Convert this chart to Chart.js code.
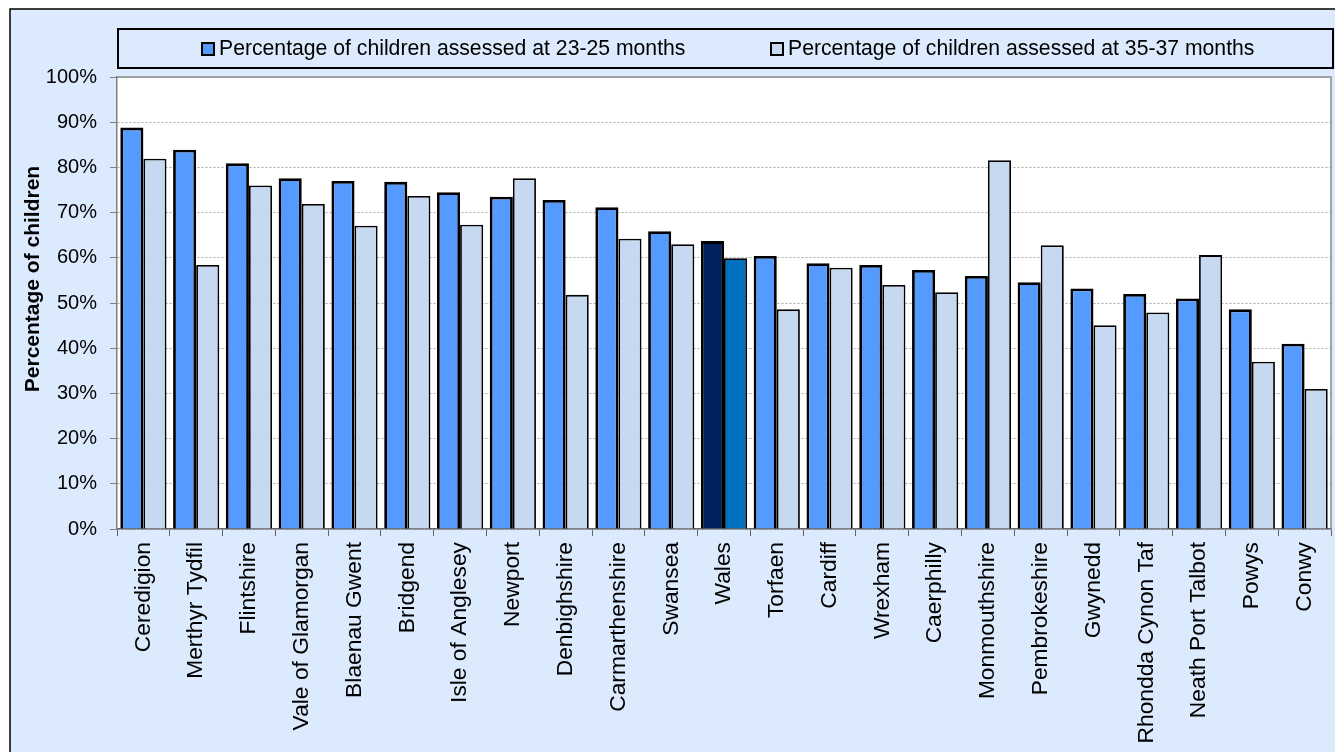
<!DOCTYPE html>
<html>
<head>
<meta charset="utf-8">
<script src="https://cdn.jsdelivr.net/npm/chart.js@4/dist/chart.umd.min.js"></script>
<style>
html,body{margin:0;padding:0;background:#ffffff;}
canvas{display:block;}
</style>
</head>
<body>
<canvas id="c" width="1335" height="752"></canvas>
<script>
const categories = ["Ceredigion","Merthyr Tydfil","Flintshire","Vale of Glamorgan","Blaenau Gwent","Bridgend","Isle of Anglesey","Newport","Denbighshire","Carmarthenshire","Swansea","Wales","Torfaen","Cardiff","Wrexham","Caerphilly","Monmouthshire","Pembrokeshire","Gwynedd","Rhondda Cynon Taf","Neath Port Talbot","Powys","Conwy"];
const series23 = [88.8, 83.9, 80.9, 77.6, 77.0, 76.8, 74.5, 73.5, 72.8, 71.2, 65.9, 63.7, 60.4, 58.8, 58.4, 57.3, 56.0, 54.6, 53.2, 52.0, 51.0, 48.6, 41.0];
const series35 = [81.9, 58.4, 76.0, 71.9, 67.1, 73.7, 67.3, 77.6, 51.8, 64.2, 63.0, 59.9, 48.6, 57.8, 54.0, 52.4, 81.6, 62.8, 45.1, 47.9, 60.6, 37.0, 31.0];
const seriesLabels = ["Percentage of children assessed at 23-25 months","Percentage of children assessed at 35-37 months"];
const yTicks = [0,10,20,30,40,50,60,70,80,90,100];
const yTitle = "Percentage of children";
const highlight = "Wales";

const FONT = "'Liberation Sans', Arial, sans-serif";
const BG = '#DCEAFD';
const C1 = '#559BFF', C1W = '#002060';
const C2 = '#C6D9F1', C2W = '#0070C0';

const frame = {
  id: 'frame',
  beforeDraw(chart) {
    const ctx = chart.ctx, a = chart.chartArea;
    ctx.save();
    ctx.fillStyle = '#ffffff';
    ctx.fillRect(0, 0, chart.width, chart.height);
    ctx.fillStyle = BG;
    ctx.fillRect(10, 9, chart.width, chart.height);
    ctx.strokeStyle = '#000';
    ctx.lineWidth = 1.5;
    ctx.beginPath();
    ctx.moveTo(10, chart.height + 2);
    ctx.lineTo(10, 9);
    ctx.lineTo(chart.width + 2, 9);
    ctx.stroke();
    ctx.fillStyle = '#ffffff';
    ctx.fillRect(a.left, a.top, a.right - a.left, a.bottom - a.top);
    ctx.restore();
  },
  afterDraw(chart) {
    const ctx = chart.ctx, a = chart.chartArea;
    ctx.save();
    ctx.strokeStyle = '#8c8c8c';
    ctx.lineWidth = 1.5;
    ctx.beginPath();
    ctx.moveTo(a.left, a.top);
    ctx.lineTo(a.right, a.top);
    ctx.lineTo(a.right, a.bottom);
    ctx.stroke();
    ctx.fillStyle = BG;
    ctx.fillRect(118, 29, 1215, 39);
    ctx.strokeStyle = '#000';
    ctx.lineWidth = 2;
    ctx.strokeRect(118, 29, 1215, 39);
    const items = [
      {x: 202, color: C1, label: seriesLabels[0]},
      {x: 771, color: C2, label: seriesLabels[1]}
    ];
    ctx.font = '21.2px ' + FONT;
    ctx.textBaseline = 'middle';
    ctx.textAlign = 'left';
    items.forEach(it => {
      ctx.fillStyle = it.color;
      ctx.fillRect(it.x, 43, 12, 12);
      ctx.strokeStyle = '#000';
      ctx.lineWidth = 2;
      ctx.strokeRect(it.x, 43, 12, 12);
      ctx.fillStyle = '#000';
      ctx.fillText(it.label, it.x + 17, 49);
    });
    ctx.translate(33, 279);
    ctx.rotate(-Math.PI / 2);
    ctx.font = 'bold 21px ' + FONT;
    ctx.textAlign = 'center';
    ctx.textBaseline = 'middle';
    ctx.fillStyle = '#000';
    ctx.fillText(yTitle, 0, 0);
    ctx.restore();
  }
};

new Chart(document.getElementById('c'), {
  type: 'bar',
  data: {
    labels: categories,
    datasets: [
      {
        label: seriesLabels[0],
        data: series23,
        backgroundColor: categories.map(c => c === highlight ? C1W : C1),
        borderColor: '#000',
        borderWidth: 2.8,
        borderSkipped: 'bottom',
        categoryPercentage: 0.875,
        barPercentage: 1.0
      },
      {
        label: seriesLabels[1],
        data: series35,
        backgroundColor: categories.map(c => c === highlight ? C2W : C2),
        borderColor: '#000',
        borderWidth: 1.8,
        borderSkipped: 'bottom',
        categoryPercentage: 0.875,
        barPercentage: 1.0
      }
    ]
  },
  options: {
    responsive: false,
    animation: false,
    devicePixelRatio: 1,
    layout: { padding: { left: 10, top: 77, right: 4, bottom: 0 } },
    plugins: { legend: { display: false }, tooltip: { enabled: false } },
    scales: {
      x: {
        afterFit(s) { s.height = 223; s.paddingLeft = 0; s.paddingRight = 0; },
        grid: { drawOnChartArea: false, drawTicks: true, tickLength: 7, color: '#666', offset: true },
        border: { display: true, color: '#666', width: 1.5 },
        ticks: {
          color: '#000',
          font: { family: FONT, size: 22.8 },
          minRotation: 90, maxRotation: 90,
          padding: 6,
          autoSkip: false
        }
      },
      y: {
        min: 0, max: 100,
        afterFit(s) { s.width = 107; s.paddingTop = 0; s.paddingBottom = 0; },
        afterBuildTicks(s) { s.ticks = yTicks.map(v => ({value: v})); },
        grid: { color: '#a8a8a8', lineWidth: 1, drawTicks: true, tickLength: 7, tickColor: '#808080', tickBorderDash: [] },
        border: { display: true, color: '#808080', width: 1.5, dash: [2, 2] },
        ticks: {
          color: '#000',
          font: { family: FONT, size: 20 },
          padding: 13,
          callback: v => v + '%'
        }
      }
    }
  },
  plugins: [frame]
});
</script>
</body>
</html>
